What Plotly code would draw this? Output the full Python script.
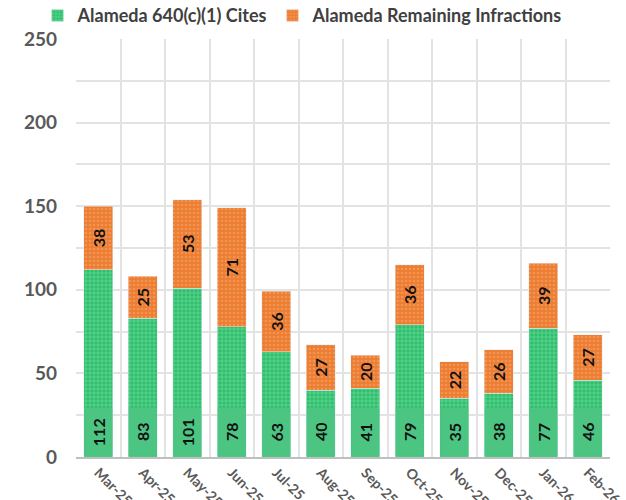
import plotly.graph_objects as go

months = ["Mar-25", "Apr-25", "May-25", "Jun-25", "Jul-25", "Aug-25",
          "Sep-25", "Oct-25", "Nov-25", "Dec-25", "Jan-26", "Feb-26"]
cites_640 = [112, 83, 101, 78, 63, 40, 41, 79, 35, 38, 77, 46]
remaining = [38, 25, 53, 71, 36, 27, 20, 36, 22, 26, 39, 27]

GREEN = "#2fbf6c"
GREEN_LABEL = "#4cc583"
ORANGE = "#ed7d31"
TEXT_GREY = "#595959"
FONT = "Lato"

fig = go.Figure()

fig.add_trace(go.Bar(
    x=months, y=cites_640, name="Alameda 640(c)(1) Cites",
    marker=dict(color=GREEN,
                pattern=dict(shape="+", fgcolor="#8fe6b4", bgcolor=GREEN,
                             size=4, solidity=0.4)),
    hoverinfo="x+y",
))

fig.add_trace(go.Bar(
    x=months, y=remaining, name="Alameda Remaining Infractions",
    marker=dict(color=ORANGE,
                pattern=dict(shape=".", fgcolor="#f6ad7a", bgcolor=ORANGE,
                             size=4, solidity=0.35)),
    text=[str(v) for v in remaining], textposition="inside",
    insidetextanchor="middle", textangle=-90,
    textfont=dict(family=FONT, size=16, color="#111111", weight="bold"),
    constraintext="none",
    hoverinfo="x+y",
))

# value labels for the 640(c)(1) series sit on a solid band at the bar base
for m, v in zip(months, cites_640):
    fig.add_annotation(
        x=m, y=0, xref="x", yref="y", text=str(v), showarrow=False,
        textangle=-90, yanchor="bottom", xanchor="center",
        width=48, height=28, bgcolor=GREEN_LABEL, borderpad=0, borderwidth=0,
        font=dict(family=FONT, size=16, color="#111111", weight="bold"),
        yshift=1,
    )

fig.update_layout(
    width=626, height=500,
    barmode="stack", bargap=0.34,
    plot_bgcolor="white", paper_bgcolor="white",
    margin=dict(l=76, r=16, t=39, b=43, autoexpand=False),
    font=dict(family=FONT, color=TEXT_GREY),
    legend=dict(orientation="h", xref="container", yref="paper",
                x=0.06, xanchor="left", y=1.1, yanchor="top",
                bgcolor="rgba(0,0,0,0)",
                font=dict(family=FONT, size=18, color="#404040", weight="bold"),
                itemwidth=30, traceorder="normal"),
    showlegend=True,
)

fig.update_xaxes(
    type="category", tickangle=45, tickson="boundaries",
    showgrid=True, gridcolor="#e3e3e3", gridwidth=1.5,
    showline=True, linecolor="#bfbfbf", linewidth=2,
    ticks="", automargin=False,
    tickfont=dict(family=FONT, size=14, color=TEXT_GREY, weight="bold"),
)

fig.update_yaxes(
    range=[0, 250], dtick=50, showgrid=True, gridcolor="#e3e3e3", gridwidth=1.5,
    minor=dict(dtick=25, showgrid=True, gridcolor="#e3e3e3", gridwidth=1.5),
    zeroline=False, ticks="", automargin=False, ticklabelstandoff=18,
    tickfont=dict(family=FONT, size=19, color=TEXT_GREY, weight="bold"),
)

fig.write_html("out.html")
